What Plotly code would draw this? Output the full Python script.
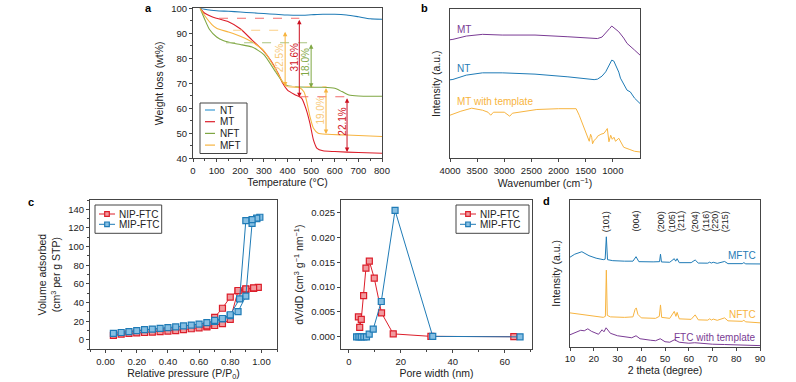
import plotly.graph_objects as go

W, H = 796, 382
def px(x): return x / W
def py(y): return 1 - y / H

FONT = "Arial, Liberation Sans, Helvetica, sans-serif"
C_BLUE = "#1f7bb6"
C_RED = "#dc1e2a"
C_GREEN = "#7fa743"
C_ORANGE = "#f7b440"
C_PURPLE = "#7a3b94"

# ---------------- Panel a: TGA ----------------
nt_T = [30, 60, 100, 150, 200, 250, 300, 350, 400, 450, 500, 550, 600, 650, 700, 750, 800]
nt_W = [100, 99.4, 99.0, 98.8, 98.5, 98.2, 97.9, 97.6, 97.3, 97.2, 97.4, 97.6, 97.6, 97.3, 96.6, 95.8, 95.6]
mt_T = [30, 50, 80, 100, 150, 200, 250, 300, 330, 360, 380, 400, 430, 460, 480, 495, 510, 525, 550, 600, 700, 800]
mt_W = [100, 98.0, 96.6, 96.0, 94.6, 91.8, 87.3, 82.8, 79.0, 74.0, 70.0, 67.3, 65.5, 64.0, 59.3, 54.0, 47.3, 44.0, 43.0, 42.7, 42.3, 42.0]
nft_T = [30, 50, 70, 100, 130, 170, 200, 250, 300, 350, 380, 400, 450, 550, 600, 630, 660, 700, 800]
nft_W = [100, 95.5, 91.5, 88.5, 87.0, 86.0, 85.5, 84.5, 81.5, 74.5, 70.5, 69.0, 68.5, 68.4, 68.0, 66.7, 65.3, 64.9, 64.8]
mft_T = [30, 50, 80, 100, 150, 200, 250, 300, 350, 380, 400, 450, 470, 480, 495, 510, 530, 570, 650, 800]
mft_W = [100, 97.0, 93.5, 92.0, 90.5, 88.8, 86.5, 83.0, 75.5, 70.5, 68.7, 68.3, 66.5, 63.3, 56.7, 52.0, 50.0, 49.6, 49.3, 48.7]
tga_names = ["NT", "MT", "NFT", "MFT"]

# dashed guide levels and arrows
guide_y = [96.0, 91.2, 86.2, 68.7, 64.6]
guide_x0 = [110, 170, 140, 395, 450]
guide_x1 = [450, 395, 500, 565, 655]
guide_col = ["#f26b6b", "#fbcf87", "#a9c47f", "#fbcf87", "#f26b6b"]
arrow_x = [390, 450, 500, 563, 652]
arrow_top = [91.2, 96.0, 86.2, 68.7, 64.6]
arrow_bot = [68.7, 64.4, 68.2, 49.7, 42.5]
arrow_col = [C_ORANGE, "#cc1020", C_GREEN, C_ORANGE, "#cc1020"]
pct_text = ["22.5%", "31.6%", "18.0%", "19.0%", "22.1%"]
pct_x = [364, 429, 476, 541, 629]
pct_y = [80, 80.5, 78.5, 59, 54.5]
pct_col = ["#f8c978", "#d01525", C_GREEN, "#f8c978", "#d01525"]

# ---------------- Panel b: FTIR ----------------
mt_wn = [4000, 3946, 3700, 3400, 3038, 2434, 1828, 1500, 1345, 1283, 1200, 1132, 1060, 1020, 980, 930, 891, 800, 739, 600, 500]
mt_I = [118.3, 118.7, 122.0, 123.7, 123.0, 123.0, 121.3, 120.0, 119.0, 119.5, 121.0, 124.7, 129.5, 132.0, 130.0, 127.5, 126.3, 120.0, 114.7, 108.0, 103.0]
nt_wn = [4000, 3946, 3700, 3401, 3038, 2434, 1828, 1400, 1345, 1283, 1200, 1132, 1060, 1020, 982, 930, 891, 860, 800, 739, 679, 600, 500]
nt_I = [78.3, 78.7, 83.0, 85.3, 85.3, 84.0, 81.3, 78.7, 78.5, 79.0, 82.0, 86.3, 93.0, 98.0, 97.0, 91.0, 86.0, 80.0, 74.0, 68.0, 66.3, 60.0, 54.7]
mtt_wn = [4000, 3800, 3600, 3400, 3300, 3250, 3200, 3000, 2950, 2900, 2850, 2700, 2400, 2000, 1750, 1677, 1620, 1586, 1530, 1495, 1460, 1435, 1410, 1390, 1374, 1344, 1300, 1283, 1220, 1162, 1102, 1085, 1072, 1040, 1011, 980, 951, 891, 800, 700, 600, 497]
mtt_I = [43, 47, 50, 48, 46, 43, 46, 46, 44, 42, 45, 46, 48.7, 49.5, 49.7, 49.5, 43, 38, 30, 25, 21, 17, 24, 21, 14.5, 18, 20, 22, 24, 25, 29.7, 22, 16.5, 23, 19, 21, 17, 20, 11, 9, 7, 6.3]
ftir_names = ["MT", "NT", "MT with template"]
ftir_ticks = [4000, 3500, 3000, 2500, 2000, 1500, 1000]

# ---------------- Panel c: BET ----------------
nip_P = [0.05, 0.10, 0.15, 0.20, 0.25, 0.30, 0.35, 0.40, 0.45, 0.50, 0.55, 0.60, 0.65, 0.70, 0.75, 0.80, 0.85, 0.90, 0.95, 0.98,
         0.95, 0.90, 0.85, 0.80, 0.75, 0.70, 0.65]
nip_V = [5.0, 6.3, 7.0, 7.5, 8.0, 8.5, 9.0, 9.5, 10.0, 11.0, 12.0, 13.0, 14.0, 15.5, 17.5, 22.0, 52.5, 54.2, 55.3, 56.4,
         55.8, 54.8, 53.0, 46.0, 34.0, 24.3, 15.0]
mip_P = [0.05, 0.10, 0.15, 0.20, 0.25, 0.30, 0.35, 0.40, 0.45, 0.50, 0.55, 0.60, 0.65, 0.70, 0.75, 0.80, 0.85, 0.90, 0.94, 0.97, 0.99,
         0.97, 0.94, 0.90, 0.86, 0.80, 0.75, 0.70]
mip_V = [7.0, 8.0, 9.0, 10.0, 11.0, 11.7, 12.5, 13.2, 14.0, 15.0, 16.0, 17.0, 18.5, 20.0, 22.5, 26.0, 30.3, 47.0, 125.0, 130.0, 131.5,
         130.5, 129.0, 128.0, 44.0, 27.0, 23.0, 21.0]
nip_D = [3.7, 4.2, 4.8, 5.7, 6.6, 7.9, 9.8, 12.6, 17.1, 31.6, 63.5]
nip_dv = [0.0040, 0.0019, 0.0035, 0.0083, 0.0138, 0.0152, 0.0118, 0.0048, 0.0006, 0.0001, 0.00003]
mip_D = [3.0, 3.9, 4.8, 5.8, 6.8, 7.85, 9.4, 12.5, 17.8, 32.3, 65.9]
mip_dv = [0.0, 0.0, 0.0, 0.0, 0.0, 0.00054, 0.00155, 0.0071, 0.0254, 0.0001, 0.0]
bet_names = ["NIP-FTC", "MIP-FTC"]

# ---------------- Panel d: XRD ----------------
mftc_2t = [10, 12, 15, 18, 21, 24, 24.8, 25.3, 25.8, 28, 33, 36.5, 37.8, 39, 45, 47.7, 48.1, 48.5, 52, 53.9, 54.5, 55.1, 56, 61, 62.7, 64, 68, 68.8, 69.5, 70.3, 72, 75.1, 76.5, 82.5, 83.2, 84, 90]
mftc_I = [89.5, 92.5, 95, 91, 88.5, 87, 87.5, 110, 87, 86, 85.5, 85.5, 90, 85, 84.8, 85, 92.5, 84.7, 84.4, 88, 85.5, 88, 84, 84, 86.7, 83.6, 83.5, 84.5, 83.6, 84.4, 83.3, 85.2, 83, 83, 84, 82.8, 82.7]
nftc_2t = [10, 15, 20, 24, 24.9, 25.3, 25.7, 27, 33, 36.5, 37.4, 37.9, 38.6, 40, 46, 47.6, 48.1, 48.6, 52, 53.9, 54.6, 55.1, 56, 61, 62.7, 64, 68, 68.8, 69.6, 70.3, 72, 75.1, 76.5, 82.5, 83.2, 84, 90]
nftc_I = [33.5, 32, 30.5, 29, 30, 76.5, 31, 29.5, 29, 29.5, 37, 38.5, 32, 28.5, 28, 30, 41.5, 29, 28, 35, 30, 34, 27.5, 27, 31.5, 26.5, 26.2, 27.5, 26.3, 27.3, 26, 28.5, 25.5, 25, 26, 24.5, 23.5]
ftc_2t = [10, 12, 14.5, 16, 17.5, 19, 21, 22, 23.5, 24.3, 25.2, 26, 27, 30, 33, 36, 37.8, 39.5, 44, 46, 48, 50, 52, 54, 56, 60, 62.5, 66, 70, 75, 80, 90]
ftc_I = [11.5, 13.5, 16, 15.5, 17.5, 15, 13, 12, 16.5, 14.5, 18.5, 16, 13, 10.5, 9.5, 8.5, 10.5, 7.5, 6, 5.5, 7.5, 4.5, 4, 6.5, 4, 3, 3.5, 2.5, 2, 1.7, 1.2, 0.6]
xrd_names = ["MFTC", "NFTC", "FTC with template"]
hkl_labels = ["(101)", "(004)", "(200)", "(105)", "(211)", "(204)", "(116)", "(220)", "(215)"]
hkl_pos = [25.5, 37.8, 48.3, 52.9, 57.0, 62.6, 67.6, 71.2, 75.6]

fig = go.Figure()

def line(x, y, color, xa, ya, width=1.1):
    fig.add_trace(go.Scatter(x=x, y=y, mode="lines", line=dict(color=color, width=width, shape="spline", smoothing=0.6),
                             xaxis=xa, yaxis=ya, showlegend=False, hoverinfo="skip"))

# panel a
for T, Wt, c in zip([nt_T, mt_T, nft_T, mft_T], [nt_W, mt_W, nft_W, mft_W], [C_BLUE, C_RED, C_GREEN, C_ORANGE]):
    line(T, Wt, c, "x", "y")
# panel b
for wn, I, c in zip([mt_wn, nt_wn, mtt_wn], [mt_I, nt_I, mtt_I], [C_PURPLE, C_BLUE, C_ORANGE]):
    fig.add_trace(go.Scatter(x=wn, y=I, mode="lines", line=dict(color=c, width=1), xaxis="x2", yaxis="y2",
                             showlegend=False, hoverinfo="skip"))
# panel c
mk = dict(symbol="square", size=6)
for xs, ys, c, fc, xa, ya in [(nip_P, nip_V, C_RED, "#f19a9e", "x3", "y3"), (mip_P, mip_V, C_BLUE, "#86bfe3", "x3", "y3"),
                              (nip_D, nip_dv, C_RED, "#f19a9e", "x4", "y4"), (mip_D, mip_dv, C_BLUE, "#86bfe3", "x4", "y4")]:
    fig.add_trace(go.Scatter(x=xs, y=ys, mode="lines+markers", line=dict(color=c, width=1),
                             marker=dict(color=fc, line=dict(color=c, width=1.2), **mk),
                             xaxis=xa, yaxis=ya, showlegend=False))
# panel d
for t, I, c in zip([mftc_2t, nftc_2t, ftc_2t], [mftc_I, nftc_I, ftc_I], [C_BLUE, C_ORANGE, C_PURPLE]):
    fig.add_trace(go.Scatter(x=t, y=I, mode="lines", line=dict(color=c, width=1), xaxis="x5", yaxis="y5",
                             showlegend=False, hoverinfo="skip"))

AX = "#454545"
def axis(domain, rng, dtick=None, minor=None, showticks=True, title="", standoff=4, tickformat=None, tick0=None,
         anchor=None, tickvals=None):
    d = dict(domain=domain, range=rng, showline=True, linecolor=AX, linewidth=1, mirror=True, automargin=False,
             showgrid=False, zeroline=False, tickfont=dict(size=9.5, color="#222", family=FONT),
             title=dict(text=title, font=dict(size=10.5, color="#222", family=FONT), standoff=standoff),
             anchor=anchor)
    if showticks:
        d.update(ticks="outside", ticklen=3, tickwidth=1, tickcolor=AX)
        if tickvals is not None:
            d.update(tickmode="array", tickvals=tickvals)
        else:
            d["dtick"] = dtick
        if tick0 is not None:
            d["tick0"] = tick0
        if tickformat:
            d["tickformat"] = tickformat
        if minor:
            d["minor"] = dict(ticks="outside", ticklen=2, tickcolor=AX, dtick=minor, showgrid=False)
    else:
        d.update(ticks="", showticklabels=False)
    return d

fig.update_layout(
    template="none",
    width=W, height=H, margin=dict(l=0, r=0, t=0, b=0, autoexpand=False),
    paper_bgcolor="white", plot_bgcolor="white",
    font=dict(family=FONT, size=10, color="#222"),
    xaxis=axis([px(193), px(382)], [0, 800], 100, 50, title="Temperature (°C)", standoff=3, anchor="y"),
    yaxis=axis([py(158.3), py(8.3)], [40, 100], 10, 5, title="Weight loss (wt%)", standoff=5, anchor="x"),
    xaxis2=axis([px(450), px(640)], [4000, 500], title="Wavenumber (cm<sup>−1</sup>)", standoff=3, anchor="y2",
                tickvals=ftir_ticks),
    yaxis2=axis([py(158.3), py(9)], [0, 149], showticks=False, title="Intensity (a.u.)", standoff=6, anchor="x2"),
    xaxis3=axis([px(90), px(277)], [-0.1, 1.1], 0.2, 0.1, title="Relative pressure (P/P<sub>0</sub>)", standoff=3,
                tickformat=".2f", tick0=0, anchor="y3"),
    yaxis3=axis([py(349.3), py(200)], [-10, 150], 20, 10, title="Volume adsorbed<br>(cm<sup>3</sup> per g STP)",
                standoff=5, tick0=0, anchor="x3"),
    xaxis4=axis([px(341), px(532)], [-3, 70.5], 20, 10, title="Pore width (nm)", standoff=3, tick0=0, anchor="y4"),
    yaxis4=axis([py(349.3), py(200)], [-0.0025, 0.0275], 0.005, None, title="dV/dD (cm<sup>3</sup> g<sup>−1</sup> nm<sup>−1</sup>)",
                standoff=5, tickformat=".3f", tick0=0, anchor="x4"),
    xaxis5=axis([px(570), px(760)], [10, 90], 10, None, title="2 theta (degree)", standoff=3, anchor="y5"),
    yaxis5=axis([py(346.7), py(200)], [-0.5, 147], showticks=False, title="Intensity (a.u.)", standoff=6, anchor="x5"),
)

shapes = []
ann = []
# panel a guides
for yv, x0, x1, c in zip(guide_y, guide_x0, guide_x1, guide_col):
    shapes.append(dict(type="line", xref="x", yref="y", x0=x0, x1=x1, y0=yv, y1=yv,
                       line=dict(color=c, width=1.1, dash="dash")))
for xv, yt, yb, c in zip(arrow_x, arrow_top, arrow_bot, arrow_col):
    ann.append(dict(xref="x", yref="y", axref="x", ayref="y", x=xv, y=yb, ax=xv, ay=yt, text="",
                    showarrow=True, arrowhead=2, arrowside="end+start", arrowsize=0.9, arrowwidth=1, arrowcolor=c))
for t, xv, yv, c in zip(pct_text, pct_x, pct_y, pct_col):
    ann.append(dict(xref="x", yref="y", x=xv, y=yv, text=t, showarrow=False, textangle=-90,
                    font=dict(size=10, color=c, family=FONT)))

# legend a (manual)
shapes.append(dict(type="rect", xref="paper", yref="paper", x0=px(200), x1=px(247), y0=py(153.5), y1=py(103),
                   line=dict(color=AX, width=1), fillcolor="white"))
for i, (nm, c) in enumerate(zip(tga_names, ["#3a9ad4", C_RED, C_GREEN, C_ORANGE])):
    yy = 110 + i * 11.7
    shapes.append(dict(type="line", xref="paper", yref="paper", x0=px(205), x1=px(215), y0=py(yy), y1=py(yy),
                       line=dict(color=c, width=1.2)))
    ann.append(dict(xref="paper", yref="paper", x=px(218), y=py(yy), text=nm, showarrow=False, xanchor="left",
                    yanchor="middle", font=dict(size=10, color="#222", family=FONT)))

# panel b labels
for nm, yv, c in zip(ftir_names, [129, 90, 57], [C_PURPLE, C_BLUE, C_ORANGE]):
    ann.append(dict(xref="x2", yref="y2", x=3900, y=yv, text=nm, showarrow=False, xanchor="left",
                    font=dict(size=10, color=c, family=FONT)))

# legends c (manual)
for (bx0, bx1) in [(95, 161.7), (456, 529)]:
    shapes.append(dict(type="rect", xref="paper", yref="paper", x0=px(bx0), x1=px(bx1), y0=py(233.3), y1=py(205),
                       line=dict(color=AX, width=1), fillcolor="white"))
    for i, (nm, c, fc) in enumerate(zip(bet_names, [C_RED, C_BLUE], ["#f19a9e", "#86bfe3"])):
        yy = 214 + i * 10.3
        shapes.append(dict(type="line", xref="paper", yref="paper", x0=px(bx0 + 4), x1=px(bx0 + 20), y0=py(yy), y1=py(yy),
                           line=dict(color=c, width=1)))
        shapes.append(dict(type="rect", xref="paper", yref="paper", x0=px(bx0 + 9.7), x1=px(bx0 + 14.3),
                           y0=py(yy + 2.3), y1=py(yy - 2.3), line=dict(color=c, width=1.2), fillcolor=fc))
        ann.append(dict(xref="paper", yref="paper", x=px(bx0 + 22), y=py(yy), text=nm, showarrow=False, xanchor="left",
                        yanchor="middle", font=dict(size=10, color="#222", family=FONT)))

# panel d labels
for nm, yv, c in zip(xrd_names, [91, 31.7, 8.6], [C_BLUE, C_ORANGE, C_PURPLE]):
    ann.append(dict(xref="x5", yref="y5", x=89, y=yv, text=nm, showarrow=False, xanchor="right",
                    font=dict(size=10, color=c, family=FONT)))
for lab, xv in zip(hkl_labels, hkl_pos):
    ann.append(dict(xref="x5", yref="y5", x=xv, y=125.5, text=lab, showarrow=False, textangle=-90,
                    font=dict(size=9, color="#222", family=FONT)))

# panel letters
for lt, xx, yy in [("a", 148, 8), ("b", 425, 8), ("c", 31, 202), ("d", 546, 201)]:
    ann.append(dict(xref="paper", yref="paper", x=px(xx), y=py(yy), text=f"<b>{lt}</b>", showarrow=False,
                    xanchor="center", yanchor="middle", font=dict(size=11, color="#000", family=FONT)))

fig.update_layout(shapes=shapes, annotations=ann)
fig.write_html("out.html", config={"displayModeBar": False},
               post_script="document.body.style.margin='0px';document.body.style.overflow='hidden';")
